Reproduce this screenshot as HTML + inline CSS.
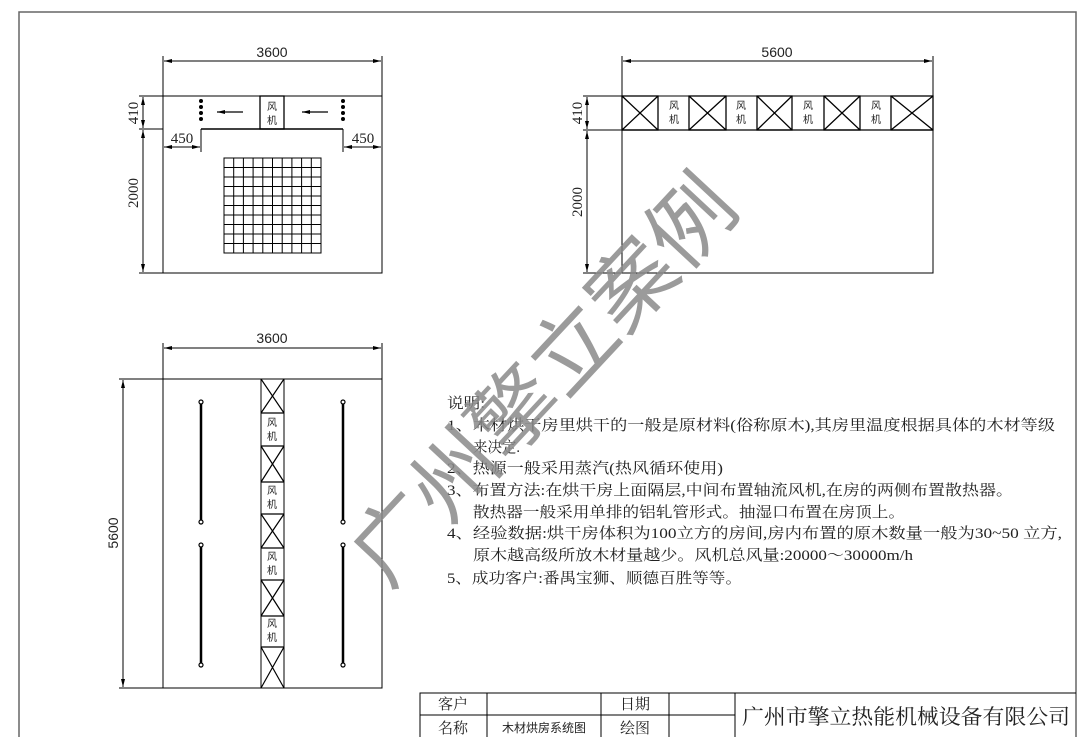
<!DOCTYPE html>
<html><head><meta charset="utf-8"><style>
html,body{margin:0;padding:0;background:#fff;}
svg{display:block;}
text{font-family:"Liberation Serif","Noto Serif CJK SC","Noto Sans CJK SC",serif;fill:#222;}
.s{font-family:"Liberation Sans","Noto Sans CJK SC",sans-serif;}
</style></head><body>
<svg width="1080" height="737" viewBox="0 0 1080 737" xmlns="http://www.w3.org/2000/svg">
<defs>
<marker id="a" markerWidth="8" markerHeight="6" refX="8" refY="3" orient="auto-start-reverse" markerUnits="userSpaceOnUse"><path d="M0,1 L8,3 L0,5 z" fill="#000"/></marker>
</defs>
<rect x="0" y="0" width="1080" height="737" fill="#fff"/>
<path d="M19,740 V12 H1076 V740" fill="none" stroke="#666" stroke-width="1.5"/>

<g stroke="#000" stroke-width="1" fill="none">
<rect x="163" y="96" width="219" height="177"/>
<line x1="201" y1="129" x2="343" y2="129" stroke-width="1.5"/>
<rect x="260" y="96" width="24" height="33" stroke-width="1.3"/>
<line x1="163" y1="56" x2="163" y2="96"/><line x1="382" y1="56" x2="382" y2="96"/>
<line x1="164" y1="61" x2="381" y2="61" marker-start="url(#a)" marker-end="url(#a)"/>
<line x1="143" y1="97" x2="143" y2="128" marker-start="url(#a)" marker-end="url(#a)"/>
<line x1="143" y1="130" x2="143" y2="272" marker-start="url(#a)" marker-end="url(#a)"/>
<line x1="139" y1="96" x2="163" y2="96"/><line x1="139" y1="129" x2="163" y2="129"/><line x1="139" y1="273" x2="163" y2="273"/>
<line x1="201" y1="129" x2="201" y2="152"/><line x1="343" y1="129" x2="343" y2="152"/>
<line x1="164" y1="147" x2="200" y2="147" marker-start="url(#a)" marker-end="url(#a)"/>
<line x1="344" y1="147" x2="381" y2="147" marker-start="url(#a)" marker-end="url(#a)"/>
<line x1="243" y1="112" x2="217" y2="112" marker-end="url(#a)" stroke-width="1.3"/>
<line x1="328" y1="112" x2="302" y2="112" marker-end="url(#a)" stroke-width="1.3"/>
<rect x="224" y="158" width="97" height="95"/>
<path d="M233.7,158V253M243.4,158V253M253.1,158V253M262.8,158V253M272.5,158V253M282.2,158V253M291.9,158V253M301.6,158V253M311.3,158V253
M224,167.5H321M224,177H321M224,186.5H321M224,196H321M224,205.5H321M224,215H321M224,224.5H321M224,234H321M224,243.5H321"/>

<rect x="622" y="96" width="311" height="177"/>
<line x1="622" y1="130" x2="933" y2="130" stroke-width="1.3"/>
<line x1="622" y1="56" x2="622" y2="96"/><line x1="933" y1="56" x2="933" y2="96"/>
<line x1="623" y1="61" x2="932" y2="61" marker-start="url(#a)" marker-end="url(#a)"/>
<line x1="587" y1="97" x2="587" y2="129" marker-start="url(#a)" marker-end="url(#a)"/>
<line x1="587" y1="131" x2="587" y2="272" marker-start="url(#a)" marker-end="url(#a)"/>
<line x1="583" y1="96" x2="622" y2="96"/><line x1="583" y1="130" x2="622" y2="130"/><line x1="583" y1="273" x2="622" y2="273"/>
<g stroke-width="1.3">
<rect x="622" y="96" width="36" height="34"/><path d="M622,96L658,130M658,96L622,130"/>
<rect x="689" y="96" width="37" height="34"/><path d="M689,96L726,130M726,96L689,130"/>
<rect x="757" y="96" width="35" height="34"/><path d="M757,96L792,130M792,96L757,130"/>
<rect x="824" y="96" width="36" height="34"/><path d="M824,96L860,130M860,96L824,130"/>
<rect x="891" y="96" width="42" height="34"/><path d="M891,96L933,130M933,96L891,130"/>
</g>

<rect x="163" y="379" width="219" height="309"/>
<line x1="163" y1="343" x2="163" y2="379"/><line x1="382" y1="343" x2="382" y2="379"/>
<line x1="164" y1="348" x2="381" y2="348" marker-start="url(#a)" marker-end="url(#a)"/>
<line x1="123" y1="380" x2="123" y2="687" marker-start="url(#a)" marker-end="url(#a)"/>
<line x1="119" y1="379" x2="163" y2="379"/><line x1="119" y1="688" x2="163" y2="688"/>
<rect x="261" y="379" width="23" height="309"/>
<g stroke-width="1.2">
<path d="M261,379L284,413M284,379L261,413M261,413H284"/>
<path d="M261,446H284M261,446L284,482M284,446L261,482M261,482H284"/>
<path d="M261,514H284M261,514L284,548M284,514L261,548M261,548H284"/>
<path d="M261,580H284M261,580L284,616M284,580L261,616M261,616H284"/>
<path d="M261,647H284M261,647L284,688M284,647L261,688"/>
</g>
<g stroke-width="2.5">
<line x1="201" y1="402" x2="201" y2="522"/><line x1="201" y1="545" x2="201" y2="665"/>
<line x1="343" y1="402" x2="343" y2="522"/><line x1="343" y1="545" x2="343" y2="665"/>
</g>
<g fill="#fff" stroke-width="1.2">
<circle cx="201" cy="402" r="2"/><circle cx="201" cy="522" r="2"/><circle cx="201" cy="545" r="2"/><circle cx="201" cy="665" r="2"/>
<circle cx="343" cy="402" r="2"/><circle cx="343" cy="522" r="2"/><circle cx="343" cy="545" r="2"/><circle cx="343" cy="665" r="2"/>
</g>
<path d="M420,740V693H1076M420,715H735M487,693V740M601,693V740M669,693V740M735,693V740"/>
</g>
<g fill="#000">
<circle cx="201" cy="101" r="2"/><circle cx="201" cy="107" r="2"/><circle cx="201" cy="113" r="2"/><circle cx="201" cy="119" r="2"/>
<circle cx="343" cy="101" r="2"/><circle cx="343" cy="107" r="2"/><circle cx="343" cy="113" r="2"/><circle cx="343" cy="119" r="2"/>
</g>

<g font-size="14">
<text class="s" x="272" y="57" text-anchor="middle">3600</text>
<text class="s" x="777" y="57" text-anchor="middle">5600</text>
<text class="s" x="272" y="343" text-anchor="middle">3600</text>
</g>
<g font-size="15">
<text x="182" y="143" text-anchor="middle">450</text>
<text x="363" y="143" text-anchor="middle">450</text>
<text transform="translate(138,113) rotate(-90)" text-anchor="middle">410</text>
<text transform="translate(138,193) rotate(-90)" text-anchor="middle">2000</text>
<text transform="translate(582,113) rotate(-90)" text-anchor="middle">410</text>
<text transform="translate(582,202) rotate(-90)" text-anchor="middle">2000</text>
<text class="s" transform="translate(118,533) rotate(-90)" text-anchor="middle" font-size="14">5600</text>
</g>
<g font-size="10" text-anchor="middle">
<text class="s" x="272" y="110">风</text><text class="s" x="272" y="124">机</text>
<text class="s" x="674" y="109">风</text><text class="s" x="674" y="123">机</text>
<text class="s" x="741" y="109">风</text><text class="s" x="741" y="123">机</text>
<text class="s" x="808" y="109">风</text><text class="s" x="808" y="123">机</text>
<text class="s" x="876" y="109">风</text><text class="s" x="876" y="123">机</text>
<text class="s" x="272" y="426">风</text><text class="s" x="272" y="440">机</text>
<text class="s" x="272" y="494">风</text><text class="s" x="272" y="508">机</text>
<text class="s" x="272" y="560">风</text><text class="s" x="272" y="574">机</text>
<text class="s" x="272" y="627">风</text><text class="s" x="272" y="641">机</text>
</g>

<g font-size="15">
<text x="447" y="408" textLength="38" lengthAdjust="spacingAndGlyphs">说明:</text>
<text x="447" y="430" textLength="608" lengthAdjust="spacingAndGlyphs">1、木材烘干房里烘干的一般是原材料(俗称原木),其房里温度根据具体的木材等级</text>
<text x="473" y="452" textLength="47" lengthAdjust="spacingAndGlyphs">来决定.</text>
<text x="447" y="473" textLength="276" lengthAdjust="spacingAndGlyphs">2、热源一般采用蒸汽(热风循环使用)</text>
<text x="447" y="495" textLength="566" lengthAdjust="spacingAndGlyphs">3、布置方法:在烘干房上面隔层,中间布置轴流风机,在房的两侧布置散热器。</text>
<text x="473" y="517" textLength="432" lengthAdjust="spacingAndGlyphs">散热器一般采用单排的铝轧管形式。抽湿口布置在房顶上。</text>
<text x="447" y="538" textLength="615" lengthAdjust="spacingAndGlyphs">4、经验数据:烘干房体积为100立方的房间,房内布置的原木数量一般为30~50 立方,</text>
<text x="473" y="560" textLength="440" lengthAdjust="spacingAndGlyphs">原木越高级所放木材量越少。风机总风量:20000～30000m/h</text>
<text x="447" y="583" textLength="295" lengthAdjust="spacingAndGlyphs">5、成功客户:番禺宝狮、顺德百胜等等。</text>
</g>

<g font-size="15" text-anchor="middle">
<text x="453" y="709">客户</text>
<text x="453" y="733">名称</text>
<text x="635" y="709">日期</text>
<text x="635" y="733">绘图</text>
</g>
<text x="544" y="732" font-size="12" text-anchor="middle" class="s">木材烘房系统图</text>
<text x="742" y="724" font-size="21" textLength="328" lengthAdjust="spacingAndGlyphs">广州市擎立热能机械设备有限公司</text>

<text transform="translate(565,400) rotate(-47)" font-size="84" text-anchor="middle" class="s" style="fill:#8a8a8a;opacity:0.85" textLength="520" lengthAdjust="spacingAndGlyphs">广州擎立案例</text>
</svg>
</body></html>
